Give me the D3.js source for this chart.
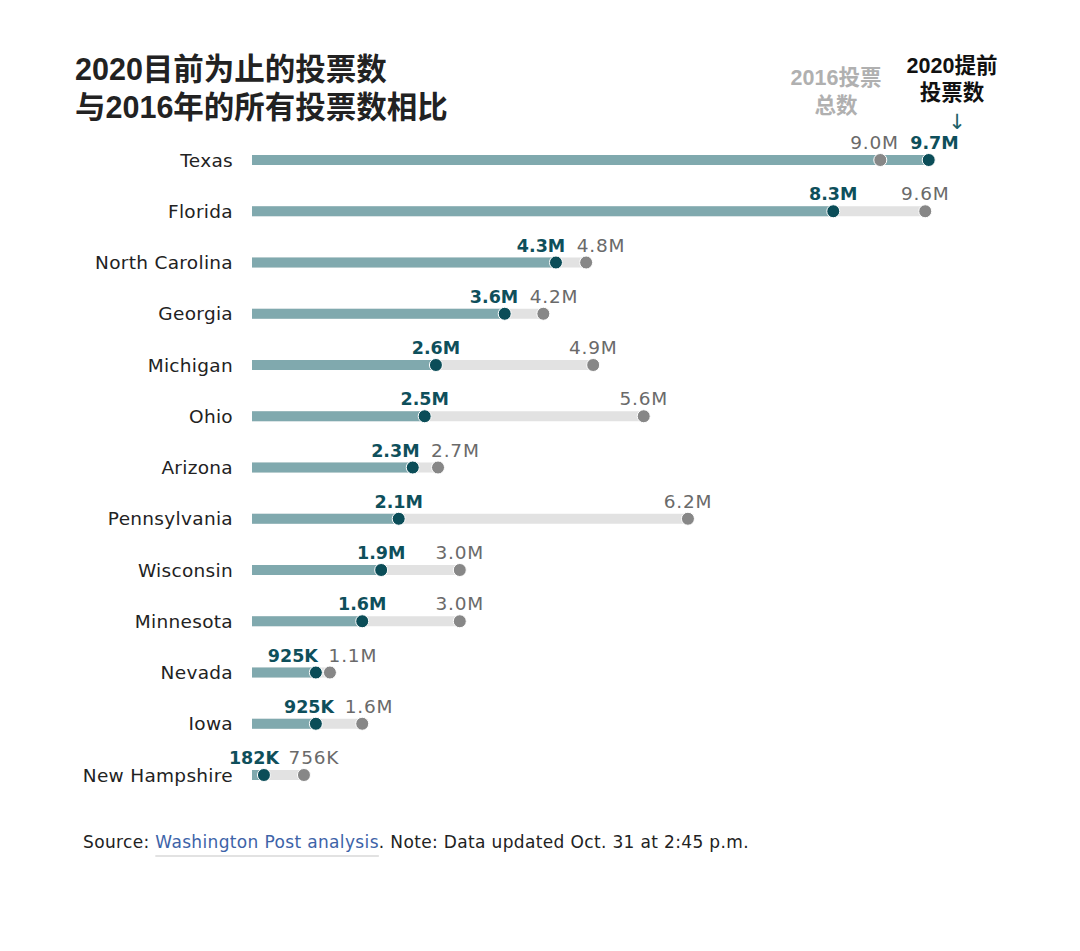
<!DOCTYPE html>
<html>
<head>
<meta charset="utf-8">
<script src="https://cdn.jsdelivr.net/npm/d3@7"></script>
<style>
  body { margin: 0; background: #fff; }
  svg text { font-family: "DejaVu Sans", "Noto Sans CJK SC", sans-serif; }
  svg text.cjk { font-family: "Liberation Sans", Arial, "Noto Sans CJK SC", sans-serif; }
</style>
</head>
<body>
<svg id="chart" width="1080" height="951"></svg>
<script>
// States, top to bottom
const states = ["Texas", "Florida", "North Carolina", "Georgia", "Michigan", "Ohio", "Arizona",
  "Pennsylvania", "Wisconsin", "Minnesota", "Nevada", "Iowa", "New Hampshire"];

// Early votes so far in 2020 (millions)
const votes2020 = [9.64, 8.28, 4.33, 3.60, 2.62, 2.46, 2.29, 2.09, 1.84, 1.57, 0.91, 0.91, 0.17];
const labels2020 = ["9.7M", "8.3M", "4.3M", "3.6M", "2.6M", "2.5M", "2.3M", "2.1M", "1.9M", "1.6M", "925K", "925K", "182K"];

// Total votes cast in 2016 (millions)
const votes2016 = [8.95, 9.59, 4.76, 4.15, 4.86, 5.58, 2.65, 6.21, 2.96, 2.96, 1.11, 1.57, 0.74];
const labels2016 = ["9.0M", "9.6M", "4.8M", "4.2M", "4.9M", "5.6M", "2.7M", "6.2M", "3.0M", "3.0M", "1.1M", "1.6M", "756K"];

const titleLines = ["2020目前为止的投票数", "与2016年的所有投票数相比"];

const svg = d3.select('#chart');

const x = d3.scaleLinear().domain([0, 10]).range([252, 954]);
const y = d3.scalePoint().domain(states).range([160, 775]);

const rows = states.map((s, i) => ({
  state: s, v20: votes2020[i], v16: votes2016[i], l20: labels2020[i], l16: labels2016[i]
}));

// title
svg.selectAll('.title')
  .data(titleLines)
  .enter().append('text')
  .attr('class', 'title cjk')
  .attr('x', 75)
  .attr('y', (d, i) => 80 + i * 38)
  .style('font-size', '30.5px')
  .style('font-weight', 'bold')
  .style('fill', '#222')
  .text(d => d);

// column headers
const h16 = svg.append('text')
  .attr('class', 'cjk')
  .attr('text-anchor', 'middle')
  .style('font-size', '21.5px')
  .style('font-weight', 'bold')
  .style('fill', '#b0b0b0');
h16.append('tspan').attr('x', 836).attr('y', 85).text('2016投票');
h16.append('tspan').attr('x', 836).attr('y', 113).text('总数');

const h20 = svg.append('text')
  .attr('class', 'cjk')
  .attr('text-anchor', 'middle')
  .style('font-size', '21.5px')
  .style('font-weight', 'bold')
  .style('fill', '#111');
h20.append('tspan').attr('x', 952).attr('y', 73).text('2020提前');
h20.append('tspan').attr('x', 952).attr('y', 100).text('投票数');

svg.append('text')
  .attr('x', 957)
  .attr('y', 129)
  .attr('text-anchor', 'middle')
  .style('font-size', '21px')
  .style('fill', '#1d5f68')
  .text('↓');

// rows
const row = svg.selectAll('.row')
  .data(rows)
  .enter().append('g')
  .attr('class', 'row')
  .attr('transform', d => `translate(0,${y(d.state)})`);

row.append('text')
  .attr('x', 233)
  .attr('dy', '0.36em')
  .attr('text-anchor', 'end')
  .style('font-size', '18.5px')
  .style('letter-spacing', '0.3px')
  .style('fill', '#222')
  .text(d => d.state);

// grey bar to 2016 total
row.append('rect')
  .attr('x', x(0))
  .attr('y', -5)
  .attr('width', d => x(d.v16) - x(0))
  .attr('height', 10)
  .attr('fill', '#e2e2e2');

// teal bar to 2020 so far
row.append('rect')
  .attr('x', x(0))
  .attr('y', -5)
  .attr('width', d => x(d.v20) - x(0))
  .attr('height', 10)
  .attr('fill', '#80a9ae');

row.append('circle')
  .attr('cx', d => x(d.v16))
  .attr('r', 6.5)
  .attr('fill', '#878787')
  .attr('stroke', '#fff')
  .attr('stroke-width', 1);

row.append('circle')
  .attr('cx', d => x(d.v20))
  .attr('r', 6.5)
  .attr('fill', '#0b4d58')
  .attr('stroke', '#fff')
  .attr('stroke-width', 1);

// label positions, pushed apart when dots are close
const minGap = 60;
function labelPos(d) {
  let a = x(d.v20), b = x(d.v16);
  if (Math.abs(a - b) < minGap) {
    const mid = (a + b) / 2;
    if (a < b) { a = mid - minGap / 2; b = mid + minGap / 2; }
    else { a = mid + minGap / 2; b = mid - minGap / 2; }
  }
  return { a: a, b: b };
}

row.append('text')
  .attr('x', d => labelPos(d).b)
  .attr('y', -11)
  .attr('text-anchor', 'middle')
  .style('font-size', '18.5px')
  .style('letter-spacing', '0.8px')
  .style('fill', '#6a6a6a')
  .text(d => d.l16);

row.append('text')
  .attr('x', d => labelPos(d).a)
  .attr('y', -11)
  .attr('text-anchor', 'middle')
  .style('font-size', '17.5px')
  .style('font-weight', 'bold')
  .style('fill', '#0e4f5b')
  .text(d => d.l20);

// source line
const src = svg.append('text')
  .attr('x', 83)
  .attr('y', 848)
  .style('font-size', '17px')
  .style('letter-spacing', '0.35px')
  .style('fill', '#222');
src.append('tspan').text('Source: ');
src.append('tspan').style('fill', '#3d63a8').text('Washington Post analysis');
src.append('tspan').text('. Note: Data updated Oct. 31 at 2:45 p.m.');

// underline under the link
const node = src.node();
const linkStart = node.getStartPositionOfChar(8).x;
const linkEnd = node.getEndPositionOfChar(8 + 'Washington Post analysis'.length - 1).x;
svg.append('line')
  .attr('x1', linkStart).attr('x2', linkEnd)
  .attr('y1', 856).attr('y2', 856)
  .attr('stroke', '#d8d8d8')
  .attr('stroke-width', 1.5);
</script>
</body>
</html>
